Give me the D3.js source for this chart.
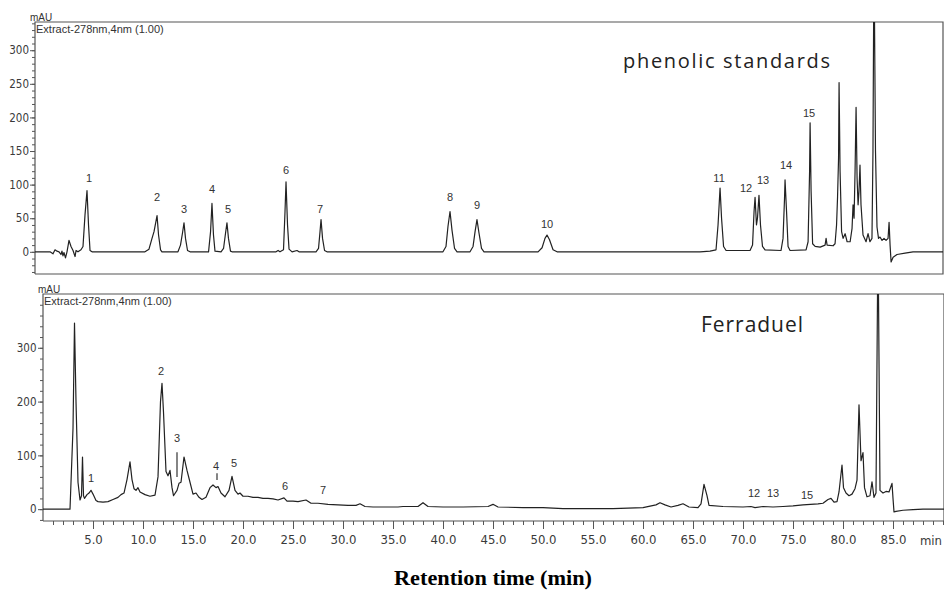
<!DOCTYPE html>
<html>
<head>
<meta charset="utf-8">
<script src="https://cdn.jsdelivr.net/npm/d3@7"></script>
<style>
  body { margin: 0; background: #fff; }
  svg { display: block; }
</style>
</head>
<body>
<div id="chartArea"></div>
<script>

// ---- data: [retention time (min), absorbance (mAU)] ----

var standardsTrace = [
  [0, 0], [1.49, 0], [1.79, -3], [1.99, 3], [2.19, 1], [2.39, 0], [2.58, -4], [2.68, 1], [2.78, -6], [2.88, -1],
  [3.03, -9], [3.18, 0], [3.38, 17], [3.58, 8], [3.78, 2], [3.98, -7], [4.08, 2], [4.27, 0], [4.57, 3], [4.77, 8],
  [4.97, 55], [5.17, 91], [5.32, 40], [5.47, 2], [5.67, 0],
  [10.93, 0], [11.33, 4], [11.63, 20], [11.83, 30], [12.13, 54], [12.28, 25], [12.48, 3], [12.62, 0],
  [14.21, 0], [14.46, 10], [14.66, 28], [14.81, 43], [14.96, 20], [15.16, 2], [15.41, 0],
  [17.25, 0], [17.45, 30], [17.59, 72], [17.74, 25], [17.89, 1],
  [18.49, 0], [18.74, 5], [18.94, 28], [19.08, 43], [19.23, 20], [19.43, 1], [19.58, 0],
  [23.96, 0], [24.16, 2], [24.35, 0], [24.70, 3], [24.85, 60], [24.95, 104], [25.10, 40], [25.25, 4], [25.55, 0],
  [26.04, 2], [26.24, 0],
  [27.93, 0], [28.18, 5], [28.33, 30], [28.43, 48], [28.58, 20], [28.78, 2], [29.02, 0],
  [40.55, 0], [40.85, 8], [41.05, 38], [41.25, 60], [41.45, 32], [41.70, 5], [41.95, 0],
  [43.24, 0], [43.54, 8], [43.74, 30], [43.93, 48], [44.13, 28], [44.38, 5], [44.63, 0],
  [50.00, 0], [50.40, 6], [50.69, 20], [50.89, 25], [51.14, 18], [51.49, 3], [51.89, 0],
  [66.10, 0], [67.09, 1], [67.69, 3], [67.89, 40], [68.09, 95], [68.24, 50], [68.44, 8], [68.69, 2],
  [71.07, 2], [71.32, 10], [71.47, 60], [71.57, 81], [71.71, 40], [71.81, 50], [71.96, 84], [72.11, 40], [72.31, 8], [72.56, 3],
  [74.15, 2], [74.35, 20], [74.50, 80], [74.55, 107], [74.70, 60], [74.85, 8], [75.05, 2],
  [76.64, 3], [76.84, 15], [76.99, 120], [77.04, 192], [77.14, 90], [77.29, 12], [77.54, 8],
  [78.04, 7], [78.53, 10], [78.63, 20], [78.73, 10], [79.32, 9], [79.52, 12],
  [79.67, 40], [79.77, 82], [79.87, 140], [79.92, 252], [80.02, 120], [80.17, 30], [80.32, 20], [80.52, 27], [80.72, 15],
  [81.02, 15], [81.21, 35], [81.31, 70], [81.41, 50], [81.51, 120], [81.61, 215], [81.71, 110], [81.81, 70], [81.90, 90],
  [82.00, 129], [82.10, 70], [82.30, 25], [82.60, 15], [82.80, 27], [82.99, 15], [83.19, 20],
  [83.29, 150], [83.39, 450], [83.54, 150], [83.69, 37], [83.84, 20], [83.99, 22], [84.19, 17], [84.39, 20],
  [84.59, 17], [84.79, 20], [84.89, 44], [84.99, 10], [85.09, -15], [85.29, -8], [85.68, -4], [86.48, -2],
  [87.27, 0], [90.25, 0]
];

var ferraduelTrace = [
  [0, 0], [2.7, 0], [3.0, 150], [3.15, 346], [3.3, 200], [3.5, 50], [3.7, 17], [3.85, 25], [3.95, 97], [4.05, 25],
  [4.15, 20], [4.4, 27], [4.6, 30], [4.8, 35], [5.0, 28], [5.3, 16], [5.5, 14], [6.0, 13], [6.5, 14], [7.0, 18],
  [7.5, 22], [7.8, 27], [8.1, 30], [8.4, 55], [8.7, 88], [8.9, 55], [9.1, 38], [9.3, 35], [9.5, 40], [9.7, 32],
  [10.2, 27], [10.7, 24], [11.2, 26], [11.5, 60], [11.75, 200], [11.9, 234], [12.05, 180], [12.3, 70], [12.5, 62],
  [12.7, 72], [12.9, 40], [13.05, 25], [13.4, 35], [13.6, 48], [13.8, 50], [14.1, 97], [14.4, 72], [14.7, 50],
  [15.0, 28], [15.3, 30], [15.6, 22], [15.9, 18], [16.3, 22], [16.7, 40], [17.0, 45], [17.3, 40], [17.5, 42],
  [17.8, 30], [18.2, 23], [18.6, 35], [18.9, 61], [19.2, 35], [19.5, 28], [19.7, 30], [20.0, 24], [20.5, 24],
  [21.0, 22], [21.5, 22], [22.0, 20], [22.5, 20], [23.0, 19], [23.5, 17], [24.1, 21], [24.4, 15], [25.0, 15],
  [25.5, 14], [26.3, 17], [26.8, 11], [27.5, 11], [28.5, 9], [29.5, 8], [30.5, 7], [31.3, 7], [31.7, 10],
  [32.2, 5], [33.0, 4], [35.5, 4], [36.0, 5], [37.5, 5], [38.0, 12], [38.5, 5], [40.0, 4], [42.0, 4], [44.5, 5],
  [45.0, 9], [45.5, 4], [48.0, 3], [50.0, 3], [52.0, 1], [57.0, 1], [60.0, 3], [61.3, 8], [61.7, 12], [62.2, 8],
  [62.8, 4], [63.5, 7], [64.0, 10], [64.6, 4], [65.5, 3], [65.8, 10], [66.1, 46], [66.4, 25], [66.6, 7], [68.0, 5],
  [70.0, 4], [70.8, 5], [71.2, 3], [72.0, 5], [73.0, 4], [74.0, 5], [75.0, 6], [76.0, 8], [77.5, 10], [78.0, 11],
  [78.5, 18], [78.8, 20], [79.1, 13], [79.4, 14], [79.6, 32], [79.9, 82], [80.05, 40], [80.3, 30], [80.6, 25],
  [80.9, 28], [81.2, 38], [81.4, 54], [81.6, 194], [81.8, 90], [82.0, 105], [82.15, 40], [82.4, 23], [82.7, 25],
  [82.9, 51], [83.1, 22], [83.3, 30], [83.5, 520], [83.7, 35], [84.0, 30], [84.3, 33], [84.6, 32], [84.9, 48],
  [85.0, 20], [85.1, -5], [85.3, -4], [86.0, -2], [87.0, -1], [88.0, 0], [90.1, 0]
];

// peak numbers: [label, time, mAU where the text baseline sits]
var standardsPeakLabels = [
  ["1", 5.37, 104], ["2", 12.13, 75], ["3", 14.81, 58], ["4", 17.59, 88], ["5", 19.18, 58],
  ["6", 24.95, 116], ["7", 28.33, 58], ["8", 41.25, 76], ["9", 43.93, 64], ["10", 50.89, 35],
  ["11", 67.99, 104], ["12", 70.67, 89], ["13", 72.37, 101], ["14", 74.65, 123], ["15", 76.94, 201]
];
var ferraduelPeakLabels = [
  ["1", 4.8, 51], ["2", 11.8, 249], ["3", 13.4, 125], ["4", 17.3, 73], ["5", 19.1, 79],
  ["6", 24.2, 36], ["7", 28.0, 28], ["12", 71.1, 23], ["13", 73.0, 23], ["15", 76.4, 19]
];
// little vertical markers under some ferraduel labels: [time, from mAU, to mAU]
var ferraduelMarkers = [[13.4, 60, 106], [17.4, 54, 67]];

var standardsYTicks = [0, 50, 100, 150, 200, 250, 300];
var ferraduelYTicks = [0, 100, 200, 300];
var timeTicks = [5, 10, 15, 20, 25, 30, 35, 40, 45, 50, 55, 60, 65, 70, 75, 80, 85];

var panelTitles = ["phenolic standards", "Ferraduel"];
var detectorLabel = "Extract-278nm,4nm (1.00)";
var axisTitle = "Retention time (min)";

// ---- layout ----
var width = 944, height = 590;
var narrowFont = '"Liberation Sans Narrow", "Arial Narrow", "DejaVu Sans Condensed", sans-serif';
var plainFont = '"Liberation Sans", Arial, sans-serif';
var titleFont = '"Open Sans", "Noto Sans", sans-serif';

var panels = [
  { id: "std", trace: standardsTrace, labels: standardsPeakLabels, markers: [],
    left: 35, right: 943, top: 22, bottom: 274, tMax: 90.25, yMin: -33, yMax: 342,
    yTicks: standardsYTicks, minorStep: 10, showTimeAxis: false,
    title: panelTitles[0], titleX: 623, titleY: 68, titleLen: 207, titleSize: 20, labelPad: 1 },
  { id: "fer", trace: ferraduelTrace, labels: ferraduelPeakLabels, markers: ferraduelMarkers,
    left: 43, right: 944, top: 294, bottom: 521, tMax: 90.1, yMin: -22, yMax: 400,
    yTicks: ferraduelYTicks, minorStep: 20, showTimeAxis: true,
    title: panelTitles[1], titleX: 701, titleY: 332, titleLen: 102, titleSize: 21, labelPad: 1.5 }
];

var svg = d3.select("#chartArea")
  .append("svg")
  .attr("width", width)
  .attr("height", height);

function drawPanel(p) {
  console.log("drawPanel: " + p.id);

  var x = d3.scaleLinear().domain([0, p.tMax]).range([p.left, p.right]);
  var y = d3.scaleLinear().domain([p.yMin, p.yMax]).range([p.bottom, p.top]);

  var g = svg.append("g").attr("id", p.id + "Group");

  // clip so the big off-scale peaks stop at the frame
  svg.append("clipPath").attr("id", p.id + "Clip")
    .append("rect")
    .attr("x", p.left).attr("y", p.top)
    .attr("width", p.right - p.left + 2).attr("height", p.bottom - p.top);

  // minor y ticks first, then major with labels
  var minor = d3.range(Math.ceil(p.yMin / p.minorStep) * p.minorStep, p.yMax, p.minorStep);
  g.append("g")
    .attr("transform", "translate(" + p.left + ",0)")
    .call(d3.axisLeft(y).tickValues(minor).tickSize(3).tickFormat(""))
    .call(function (a) { a.select(".domain").remove(); })
    .selectAll("line").attr("stroke", "#555");

  var yAxis = g.append("g")
    .attr("transform", "translate(" + p.left + ",0)")
    .call(d3.axisLeft(y).tickValues(p.yTicks).tickSize(5).tickPadding(p.labelPad).tickFormat(d3.format("d")));
  yAxis.select(".domain").remove();
  yAxis.selectAll("line").attr("stroke", "#555");
  yAxis.selectAll("text")
    .attr("font-family", narrowFont)
    .attr("font-size", 11.5)
    .attr("fill", "#3a3a3a");

  if (p.showTimeAxis) {
    var xMinor = d3.range(1, 91, 1);
    g.append("g")
      .attr("transform", "translate(0," + p.bottom + ")")
      .call(d3.axisBottom(x).tickValues(xMinor).tickSize(4).tickFormat(""))
      .call(function (a) { a.select(".domain").remove(); })
      .selectAll("line").attr("stroke", "#555");

    var xAxis = g.append("g")
      .attr("transform", "translate(0," + p.bottom + ")")
      .call(d3.axisBottom(x).tickValues(timeTicks).tickSize(8).tickPadding(6).tickFormat(d3.format(".1f")));
    xAxis.select(".domain").remove();
    xAxis.selectAll("line").attr("stroke", "#555");
    xAxis.selectAll("text")
      .attr("font-family", narrowFont)
      .attr("font-size", 13)
      .attr("fill", "#3a3a3a");

    // the original runs "min" off the right edge; keep it just inside
    g.append("text")
      .attr("x", p.right - 2).attr("y", p.bottom + 24)
      .attr("text-anchor", "end")
      .attr("font-family", narrowFont).attr("font-size", 13).attr("fill", "#3a3a3a")
      .text("min");
  }

  // frame: top, left (axis), right, bottom
  g.append("path")
    .attr("d", "M" + p.left + "," + p.bottom + "V" + p.top + "H" + p.right + "V" + p.bottom + "H" + p.left)
    .attr("fill", "none")
    .attr("stroke", "#555")
    .attr("stroke-width", 1.2);

  // the trace itself
  var line = d3.line()
    .x(function (d) { return x(d[0]); })
    .y(function (d) { return y(d[1]); });

  g.append("path")
    .datum(p.trace)
    .attr("clip-path", "url(#" + p.id + "Clip)")
    .attr("d", line)
    .attr("fill", "none")
    .attr("stroke", "#222")
    .attr("stroke-width", 1.2)
    .attr("stroke-linejoin", "round");

  // peak numbers
  g.selectAll(".peakLabel")
    .data(p.labels)
    .enter()
    .append("text")
    .attr("class", "peakLabel")
    .attr("x", function (d) { return x(d[1]); })
    .attr("y", function (d) { return y(d[2]); })
    .attr("text-anchor", "middle")
    .attr("font-family", plainFont)
    .attr("font-size", 11)
    .attr("fill", "#333")
    .text(function (d) { return d[0]; });

  g.selectAll(".peakMarker")
    .data(p.markers)
    .enter()
    .append("line")
    .attr("class", "peakMarker")
    .attr("x1", function (d) { return x(d[0]); })
    .attr("x2", function (d) { return x(d[0]); })
    .attr("y1", function (d) { return y(d[1]); })
    .attr("y2", function (d) { return y(d[2]); })
    .attr("stroke", "#333")
    .attr("stroke-width", 1.2);

  // units and detector text in the corner
  g.append("text")
    .attr("x", p.left - 5).attr("y", p.top - 1)
    .attr("font-family", plainFont).attr("font-size", 10).attr("fill", "#333")
    .text("mAU");

  g.append("text")
    .attr("x", p.left + 1).attr("y", p.top + 11)
    .attr("font-family", plainFont).attr("font-size", 11).attr("fill", "#333")
    .text(detectorLabel);

  // sample title, stretched to the width it has in the picture
  g.append("text")
    .attr("x", p.titleX).attr("y", p.titleY)
    .attr("font-family", titleFont)
    .attr("font-size", p.titleSize)
    .attr("textLength", p.titleLen)
    .attr("lengthAdjust", "spacing")
    .attr("fill", "#222")
    .text(p.title);
}

panels.forEach(drawPanel);

svg.append("text")
  .attr("x", 394).attr("y", 585)
  .attr("font-family", '"Liberation Serif", "Times New Roman", serif')
  .attr("font-weight", "bold")
  .attr("font-size", 20)
  .attr("textLength", 198)
  .attr("lengthAdjust", "spacingAndGlyphs")
  .attr("fill", "#000")
  .text(axisTitle);

console.log("chart rendered");
</script>
</body>
</html>
